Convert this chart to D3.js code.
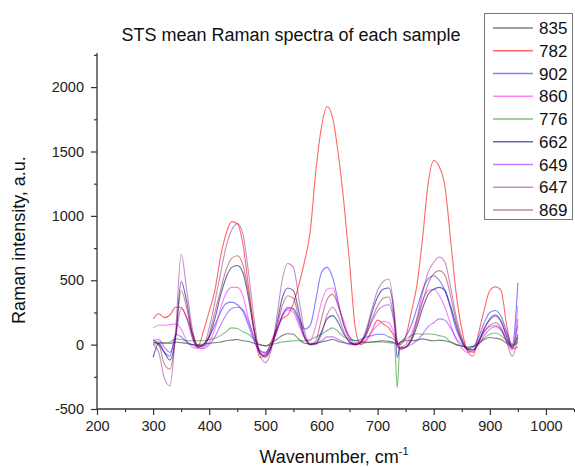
<!DOCTYPE html>
<html>
<head>
<meta charset="utf-8">
<script src="https://cdn.jsdelivr.net/npm/d3@7/dist/d3.min.js"></script>
<style>
  html, body { margin: 0; padding: 0; background: #fff; }
  svg { display: block; font-family: "Liberation Sans", Arial, sans-serif; }
</style>
</head>
<body>
<svg id="chart" width="575" height="467"></svg>
<script>
// Wavenumber grid (cm-1) shared by every spectrum
const wavenumber = [
  300,310,320,330,340,350,360,370,380,390,
  400,410,420,430,440,450,460,470,480,490,
  500,510,520,530,540,550,560,570,580,590,
  600,610,620,630,640,650,660,670,680,690,
  700,710,720,730,735,740,750,760,770,780,790,
  800,810,820,830,840,850,860,870,880,890,
  900,910,920,930,940,950
];

// Mean intensities (a.u.) per sample
const s835 = [
  10,20,15,10,20,15,10,0,0,5,
  10,15,20,30,35,40,30,25,10,0,
  -10,10,40,70,85,80,40,10,5,10,
  20,30,40,25,15,10,10,15,15,20,
  25,30,25,15,0,15,30,30,35,45,35,
  30,35,30,20,0,-10,-20,-15,10,40,
  55,50,40,10,-10,20
];
const s782 = [
  200,240,210,230,290,290,210,90,-10,110,
  260,420,680,860,955,940,780,450,120,-100,
  -80,20,120,200,230,320,470,650,880,1350,
  1690,1850,1760,1480,1100,640,140,0,30,110,
  190,160,130,60,20,0,60,250,460,820,1250,
  1430,1380,1230,820,400,120,-50,-90,90,270,
  420,450,420,150,-30,-20
];
const s902 = [
  40,0,-60,-90,80,60,20,0,-20,0,
  60,150,250,320,330,310,260,150,30,-50,
  -60,0,100,220,290,280,200,120,150,350,
  560,600,520,330,150,60,30,40,60,70,
  80,80,60,40,0,20,60,150,280,420,510,
  535,500,420,280,120,20,-30,-20,60,170,
  250,265,220,100,0,480
];
const s860 = [
  130,150,150,155,160,120,30,-20,-30,-20,
  20,120,280,400,445,445,380,200,40,-70,
  -80,-20,100,220,270,250,150,50,30,150,
  330,430,440,300,180,60,10,10,40,100,
  150,180,170,80,10,-20,0,80,200,340,420,
  430,380,290,160,40,-30,-60,-50,20,100,
  140,150,120,40,-30,300
];
const s776 = [
  0,10,10,20,45,40,30,30,30,30,
  40,50,70,100,130,125,100,80,40,0,
  -10,0,10,20,25,30,30,30,40,60,
  80,110,130,100,60,40,30,25,20,20,
  20,20,15,10,-335,10,40,70,85,80,85,
  80,70,60,20,0,-10,-20,-10,10,50,
  80,90,70,30,0,50
];
const s662 = [
  -100,10,-60,-120,60,490,330,80,-10,-10,
  60,200,380,520,600,615,560,360,100,-60,
  -90,-20,150,360,440,420,250,60,0,10,
  100,200,225,170,80,20,0,20,100,250,
  370,430,440,200,-100,-20,-20,30,140,280,390,
  430,445,420,300,150,30,-40,-40,20,120,
  200,230,180,60,-20,80
];
const s649 = [
  30,40,-20,-60,60,280,200,50,-20,-30,
  0,60,150,230,280,290,270,180,60,-40,
  -70,-20,100,230,280,270,170,60,10,10,
  30,60,60,40,20,0,0,20,80,180,
  260,300,310,150,-20,-30,-20,0,30,80,140,
  170,200,190,130,50,0,-40,-40,0,70,
  120,140,110,30,-40,200
];
const s647 = [
  0,-60,-260,-320,100,700,420,120,-10,0,
  130,330,550,760,890,940,860,560,200,-80,
  -140,-50,200,500,630,600,350,100,0,0,
  80,230,290,220,100,20,0,20,120,280,
  420,490,510,250,20,-40,-20,50,200,400,560,
  640,680,640,450,220,60,-30,-40,30,130,
  190,220,180,80,-20,150
];
const s869 = [
  20,0,-150,-190,50,420,280,60,-20,0,
  80,250,420,580,670,690,620,400,120,-60,
  -100,-30,120,300,380,360,200,50,0,30,
  200,350,390,300,150,40,0,10,80,200,
  300,360,370,180,20,-30,-20,40,170,330,470,
  550,575,540,380,180,40,-40,-60,20,100,
  150,170,130,20,-90,60
];

const sampleNames = ["835","782","902","860","776","662","649","647","869"];
const sampleValues = [s835, s782, s902, s860, s776, s662, s649, s647, s869];
const sampleColors = ["#000000","#ff0000","#0000ff","#ff00ff","#008000","#000080","#8000ff","#800080","#800000"];
const sampleOpacity = [0.5, 0.6, 0.5, 0.5, 0.5, 0.6, 0.5, 0.45, 0.45];

const xMajorTicks = [200,300,400,500,600,700,800,900,1000];
const yMajorTicks = [-500,0,500,1000,1500,2000];

const svg = d3.select("#chart");

const x = d3.scaleLinear().domain([200, 1050]).range([97, 574]);
const y = d3.scaleLinear().domain([-500, 2265]).range([409, 53]);

const axisColor = "#333";
const plain = d => String(d);

// Minor ticks
svg.append("g")
  .attr("transform", `translate(0,${y(-500)})`)
  .call(d3.axisBottom(x).tickValues(d3.range(250, 1051, 100)).tickSize(3).tickFormat("").tickSizeOuter(0))
  .call(g => g.select(".domain").remove())
  .call(g => g.selectAll("line").attr("stroke", axisColor).attr("stroke-width", 1.2));
svg.append("g")
  .attr("transform", `translate(${x(200)},0)`)
  .call(d3.axisLeft(y).tickValues(d3.range(-250, 2251, 500)).tickSize(3).tickFormat("").tickSizeOuter(0))
  .call(g => g.select(".domain").remove())
  .call(g => g.selectAll("line").attr("stroke", axisColor).attr("stroke-width", 1.2));

// Major ticks and labels
const xAxis = svg.append("g")
  .attr("transform", `translate(0,${y(-500)})`)
  .call(d3.axisBottom(x).tickValues(xMajorTicks).tickFormat(plain).tickSize(6).tickPadding(6).tickSizeOuter(0));
xAxis.select(".domain").remove();
xAxis.selectAll("line").attr("stroke", axisColor).attr("stroke-width", 1.2);
xAxis.selectAll("text").attr("font-size", 14.5).attr("fill", "#222")
  .style("font-family", "'Liberation Sans', Arial, sans-serif");

const yAxis = svg.append("g")
  .attr("transform", `translate(${x(200)},0)`)
  .call(d3.axisLeft(y).tickValues(yMajorTicks).tickFormat(plain).tickSize(6).tickPadding(7).tickSizeOuter(0));
yAxis.select(".domain").remove();
yAxis.selectAll("line").attr("stroke", axisColor).attr("stroke-width", 1.2);
yAxis.selectAll("text").attr("font-size", 14.5).attr("fill", "#222")
  .style("font-family", "'Liberation Sans', Arial, sans-serif");

// Axis lines
svg.append("line")
  .attr("x1", x(200)).attr("x2", x(1050))
  .attr("y1", y(-500)).attr("y2", y(-500))
  .attr("stroke", axisColor).attr("stroke-width", 1.3);
svg.append("line")
  .attr("x1", x(200)).attr("x2", x(200))
  .attr("y1", y(-500)).attr("y2", y(2265))
  .attr("stroke", axisColor).attr("stroke-width", 1.3);

// Spectra
const line = d3.line()
  .x((d, i) => x(wavenumber[i]))
  .y(d => y(d))
  .curve(d3.curveMonotoneX);

svg.append("g")
  .selectAll("path")
  .data(sampleValues)
  .join("path")
  .attr("d", d => line(d))
  .attr("fill", "none")
  .attr("stroke", (d, i) => sampleColors[i])
  .attr("stroke-opacity", (d, i) => sampleOpacity[i])
  .attr("stroke-width", 1.1);

// Title
svg.append("text")
  .attr("x", 291).attr("y", 41)
  .attr("text-anchor", "middle")
  .attr("font-size", 18)
  .attr("fill", "#111")
  .text("STS mean Raman spectra of each sample");

// Axis titles
const xTitle = svg.append("text")
  .attr("x", 334).attr("y", 463)
  .attr("text-anchor", "middle")
  .attr("font-size", 18)
  .attr("fill", "#111");
xTitle.append("tspan").text("Wavenumber, cm");
xTitle.append("tspan").attr("font-size", 11).attr("dy", -8).text("-1");

svg.append("text")
  .attr("transform", "translate(25,240) rotate(-90)")
  .attr("text-anchor", "middle")
  .attr("font-size", 18)
  .attr("fill", "#111")
  .text("Raman intensity, a.u.");

// Legend
const legend = svg.append("g");
legend.append("rect")
  .attr("x", 484.5).attr("y", 13.5)
  .attr("width", 88).attr("height", 206)
  .attr("fill", "#fff")
  .attr("stroke", "#777").attr("stroke-width", 1);

const rows = legend.selectAll("g.row")
  .data(sampleNames)
  .join("g")
  .attr("class", "row")
  .attr("transform", (d, i) => `translate(0,${28 + i * 22.75})`);
rows.append("line")
  .attr("x1", 493).attr("x2", 533)
  .attr("y1", 0).attr("y2", 0)
  .attr("stroke", (d, i) => sampleColors[i])
  .attr("stroke-opacity", (d, i) => sampleOpacity[i])
  .attr("stroke-width", 1.5);
rows.append("text")
  .attr("x", 539).attr("y", 6)
  .attr("font-size", 17)
  .attr("fill", "#111")
  .text(d => d);
</script>
</body>
</html>
